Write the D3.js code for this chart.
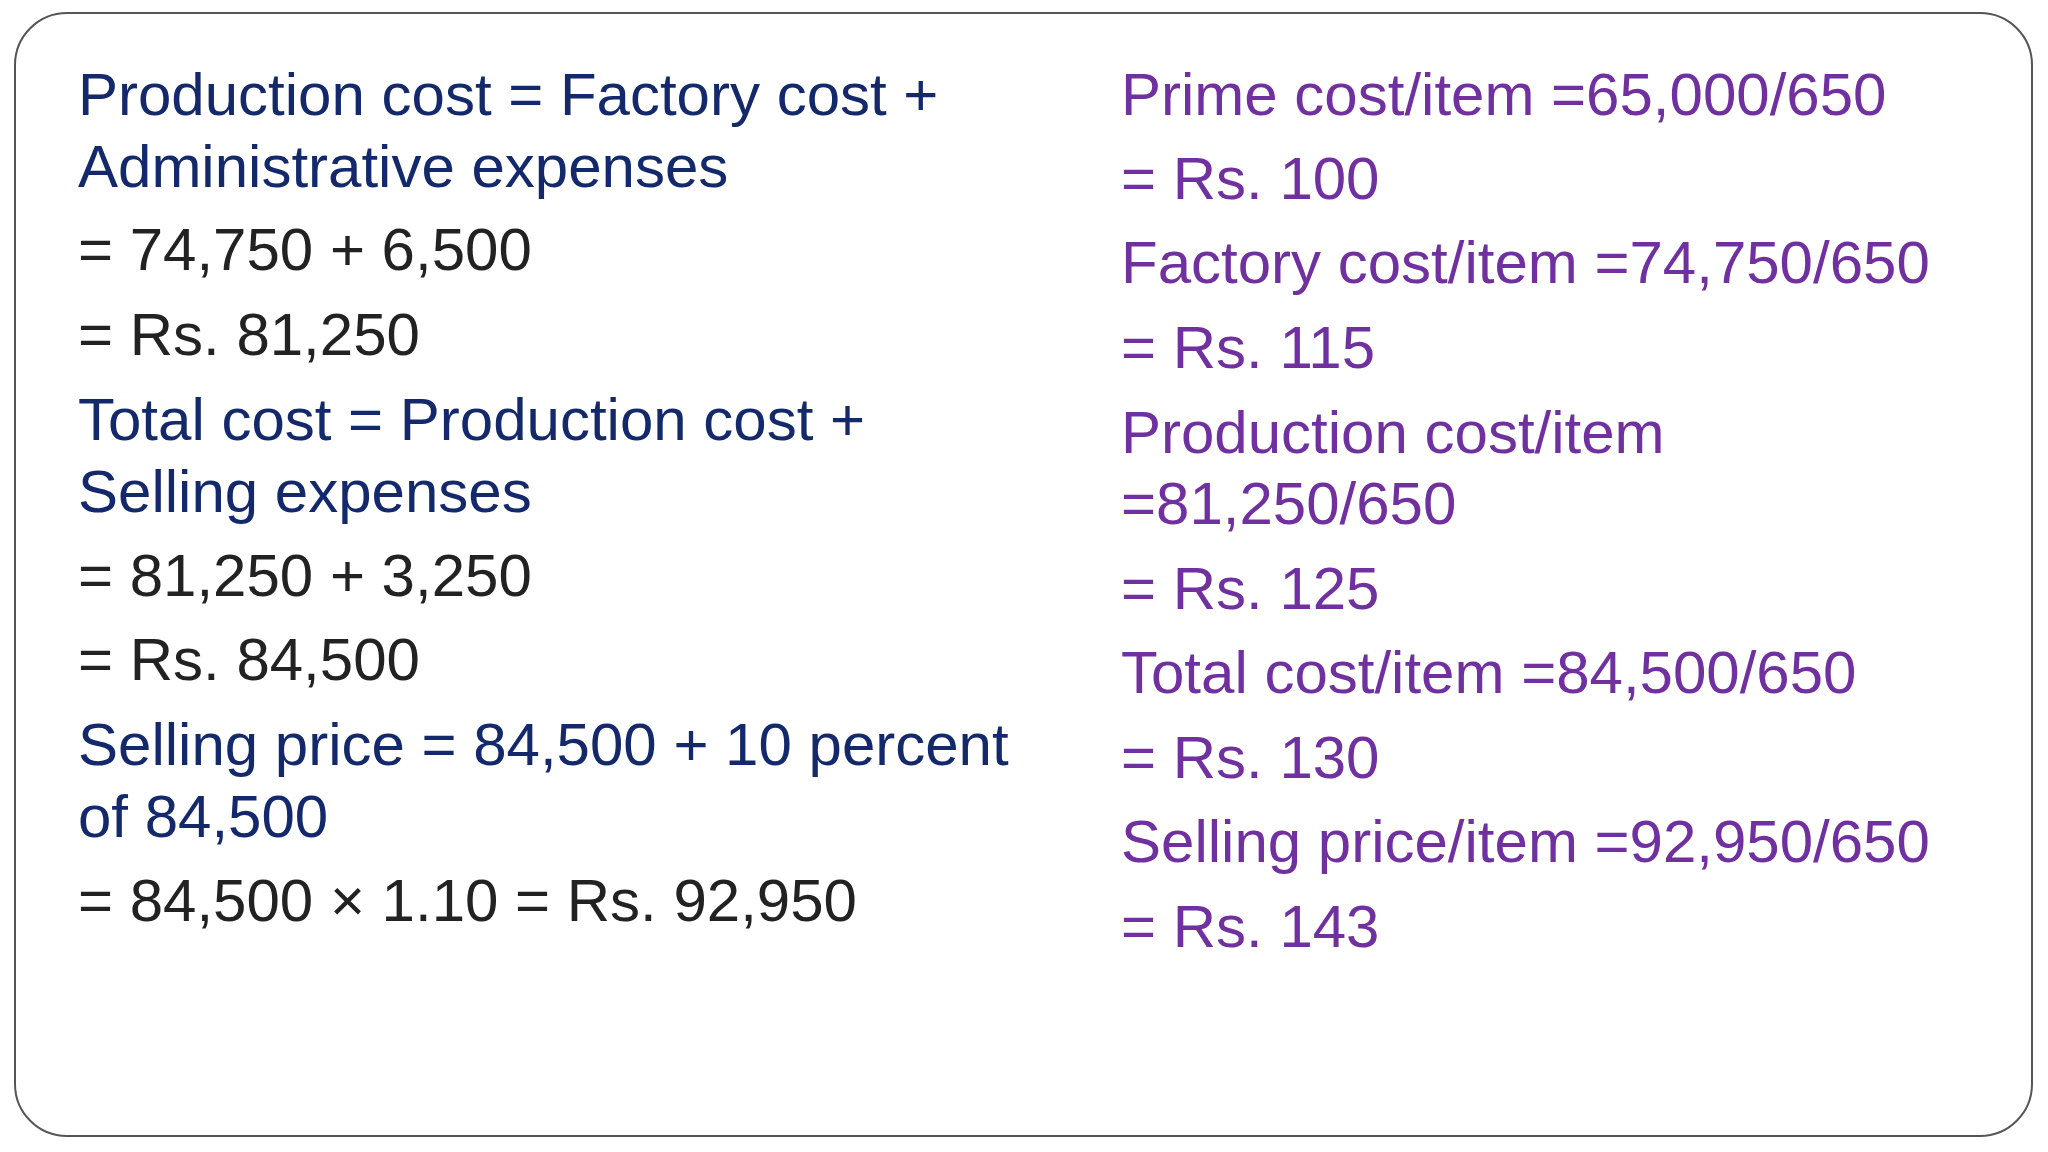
<!DOCTYPE html><html><head><script src="https://cdn.jsdelivr.net/npm/d3@7"></script>
<style>body{margin:0;background:#fff}</style></head><body><script>
const leftLines=["Production cost = Factory cost +","Administrative expenses","= 74,750 + 6,500","= Rs. 81,250","Total cost = Production cost +","Selling expenses","= 81,250 + 3,250","= Rs. 84,500","Selling price = 84,500 + 10 percent","of 84,500","= 84,500 × 1.10 = Rs. 92,950"];
const leftKinds=["h","h","n","n","h","h","n","n","h","h","n"];
const leftBase=[115,187,270,355,440,512,596,680,765,837,921];
const rightLines=["Prime cost/item =65,000/650","= Rs. 100","Factory cost/item =74,750/650","= Rs. 115","Production cost/item","=81,250/650","= Rs. 125","Total cost/item =84,500/650","= Rs. 130","Selling price/item =92,950/650","= Rs. 143"];
const rightBase=[115,199,283,368,453,524,609,693,778,862,947];
const svg=d3.select("body").append("svg").attr("width",2048).attr("height",1152);
svg.append("rect").attr("x",15).attr("y",13).attr("width",2017).attr("height",1123).attr("rx",52).attr("fill","#fff").attr("stroke","#555").attr("stroke-width",2);
const col={h:"#13296b",n:"#222222"};
svg.selectAll("text.l").data(leftLines).join("text").attr("class","l").attr("x",78).attr("y",(d,i)=>leftBase[i])
 .attr("fill",(d,i)=>col[leftKinds[i]]).attr("font-family","Liberation Sans, Arial").attr("font-size",60).text(d=>d);
svg.selectAll("text.r").data(rightLines).join("text").attr("class","r").attr("x",1121).attr("y",(d,i)=>rightBase[i])
 .attr("fill","#7030a0").attr("font-family","Liberation Sans, Arial").attr("font-size",60).text(d=>d);
</script></body></html>
